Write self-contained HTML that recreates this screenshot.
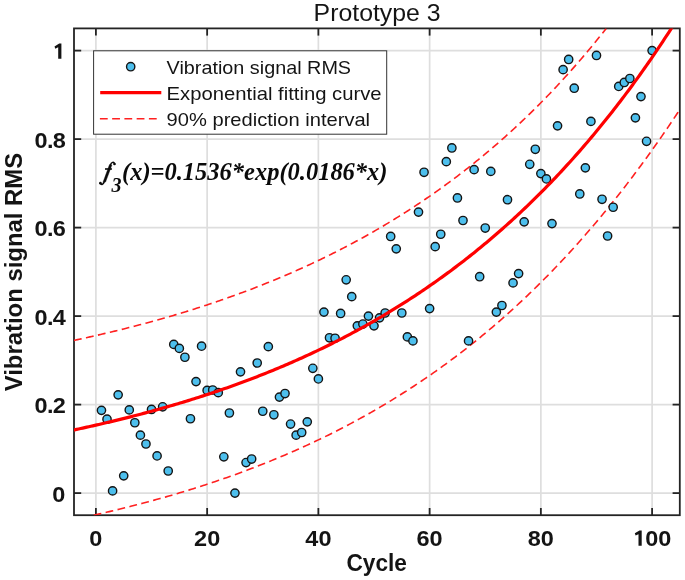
<!DOCTYPE html><html><head><meta charset="utf-8"><style>html,body{margin:0;padding:0;background:#fff;}svg{display:block;will-change:transform;}</style></head><body><svg width="685" height="580" viewBox="0 0 685 580"><g stroke="#dedede" stroke-width="1.7"><line x1="95.90" y1="28.4" x2="95.90" y2="515.2"/><line x1="207.14" y1="28.4" x2="207.14" y2="515.2"/><line x1="318.38" y1="28.4" x2="318.38" y2="515.2"/><line x1="429.62" y1="28.4" x2="429.62" y2="515.2"/><line x1="540.86" y1="28.4" x2="540.86" y2="515.2"/><line x1="652.10" y1="28.4" x2="652.10" y2="515.2"/><line x1="74.0" y1="493.10" x2="679.8" y2="493.10"/><line x1="74.0" y1="404.60" x2="679.8" y2="404.60"/><line x1="74.0" y1="316.10" x2="679.8" y2="316.10"/><line x1="74.0" y1="227.60" x2="679.8" y2="227.60"/><line x1="74.0" y1="139.10" x2="679.8" y2="139.10"/><line x1="74.0" y1="50.60" x2="679.8" y2="50.60"/></g><g stroke="#242424" stroke-width="1.8"><line x1="95.90" y1="515.2" x2="95.90" y2="508.00000000000006"/><line x1="95.90" y1="28.4" x2="95.90" y2="35.6"/><line x1="207.14" y1="515.2" x2="207.14" y2="508.00000000000006"/><line x1="207.14" y1="28.4" x2="207.14" y2="35.6"/><line x1="318.38" y1="515.2" x2="318.38" y2="508.00000000000006"/><line x1="318.38" y1="28.4" x2="318.38" y2="35.6"/><line x1="429.62" y1="515.2" x2="429.62" y2="508.00000000000006"/><line x1="429.62" y1="28.4" x2="429.62" y2="35.6"/><line x1="540.86" y1="515.2" x2="540.86" y2="508.00000000000006"/><line x1="540.86" y1="28.4" x2="540.86" y2="35.6"/><line x1="652.10" y1="515.2" x2="652.10" y2="508.00000000000006"/><line x1="652.10" y1="28.4" x2="652.10" y2="35.6"/><line x1="74.0" y1="493.10" x2="81.2" y2="493.10"/><line x1="679.8" y1="493.10" x2="672.5999999999999" y2="493.10"/><line x1="74.0" y1="404.60" x2="81.2" y2="404.60"/><line x1="679.8" y1="404.60" x2="672.5999999999999" y2="404.60"/><line x1="74.0" y1="316.10" x2="81.2" y2="316.10"/><line x1="679.8" y1="316.10" x2="672.5999999999999" y2="316.10"/><line x1="74.0" y1="227.60" x2="81.2" y2="227.60"/><line x1="679.8" y1="227.60" x2="672.5999999999999" y2="227.60"/><line x1="74.0" y1="139.10" x2="81.2" y2="139.10"/><line x1="679.8" y1="139.10" x2="672.5999999999999" y2="139.10"/><line x1="74.0" y1="50.60" x2="81.2" y2="50.60"/><line x1="679.8" y1="50.60" x2="672.5999999999999" y2="50.60"/></g><rect x="74.0" y="28.4" width="605.80" height="486.80" fill="none" stroke="#242424" stroke-width="1.8"/><defs><clipPath id="cp"><rect x="74.0" y="28.4" width="605.8" height="486.80000000000007"/></clipPath></defs><g clip-path="url(#cp)" fill="none" stroke="#ff2020" stroke-width="1.6" stroke-dasharray="7.8 4.45"><path d="M74.00,340.39 L75.77,340.01 L77.55,339.63 L79.32,339.25 L81.10,338.86 L82.87,338.47 L84.64,338.08 L86.42,337.69 L88.19,337.30 L89.97,336.90 L91.74,336.51 L93.51,336.11 L95.29,335.70 L97.06,335.30 L98.84,334.89 L100.61,334.48 L102.39,334.07 L104.16,333.65 L105.93,333.23 L107.71,332.81 L109.48,332.39 L111.26,331.97 L113.03,331.54 L114.80,331.11 L116.58,330.68 L118.35,330.24 L120.13,329.80 L121.90,329.36 L123.67,328.92 L125.45,328.48 L127.22,328.03 L129.00,327.58 L130.77,327.12 L132.54,326.67 L134.32,326.21 L136.09,325.75 L137.87,325.28 L139.64,324.82 L141.41,324.35 L143.19,323.88 L144.96,323.40 L146.74,322.92 L148.51,322.44 L150.28,321.96 L152.06,321.47 L153.83,320.98 L155.61,320.49 L157.38,320.00 L159.16,319.50 L160.93,319.00 L162.70,318.49 L164.48,317.99 L166.25,317.48 L168.03,316.96 L169.80,316.45 L171.57,315.93 L173.35,315.41 L175.12,314.88 L176.90,314.35 L178.67,313.82 L180.44,313.29 L182.22,312.75 L183.99,312.21 L185.77,311.67 L187.54,311.12 L189.31,310.57 L191.09,310.02 L192.86,309.46 L194.64,308.90 L196.41,308.34 L198.18,307.77 L199.96,307.20 L201.73,306.63 L203.51,306.05 L205.28,305.47 L207.06,304.89 L208.83,304.30 L210.60,303.71 L212.38,303.11 L214.15,302.52 L215.93,301.92 L217.70,301.31 L219.47,300.70 L221.25,300.09 L223.02,299.48 L224.80,298.86 L226.57,298.24 L228.34,297.61 L230.12,296.98 L231.89,296.35 L233.67,295.71 L235.44,295.07 L237.21,294.42 L238.99,293.78 L240.76,293.12 L242.54,292.47 L244.31,291.81 L246.08,291.14 L247.86,290.48 L249.63,289.80 L251.41,289.13 L253.18,288.45 L254.96,287.76 L256.73,287.08 L258.50,286.38 L260.28,285.69 L262.05,284.99 L263.83,284.28 L265.60,283.58 L267.37,282.86 L269.15,282.15 L270.92,281.43 L272.70,280.70 L274.47,279.97 L276.24,279.24 L278.02,278.50 L279.79,277.76 L281.57,277.01 L283.34,276.26 L285.11,275.50 L286.89,274.74 L288.66,273.98 L290.44,273.21 L292.21,272.44 L293.98,271.66 L295.76,270.88 L297.53,270.09 L299.31,269.30 L301.08,268.50 L302.85,267.70 L304.63,266.89 L306.40,266.08 L308.18,265.27 L309.95,264.45 L311.73,263.62 L313.50,262.79 L315.27,261.96 L317.05,261.12 L318.82,260.27 L320.60,259.42 L322.37,258.57 L324.14,257.71 L325.92,256.84 L327.69,255.97 L329.47,255.10 L331.24,254.22 L333.01,253.33 L334.79,252.44 L336.56,251.54 L338.34,250.64 L340.11,249.73 L341.88,248.82 L343.66,247.90 L345.43,246.98 L347.21,246.05 L348.98,245.12 L350.75,244.18 L352.53,243.23 L354.30,242.28 L356.08,241.33 L357.85,240.36 L359.63,239.40 L361.40,238.42 L363.17,237.44 L364.95,236.46 L366.72,235.47 L368.50,234.47 L370.27,233.47 L372.04,232.46 L373.82,231.45 L375.59,230.43 L377.37,229.40 L379.14,228.37 L380.91,227.33 L382.69,226.28 L384.46,225.23 L386.24,224.17 L388.01,223.11 L389.78,222.04 L391.56,220.96 L393.33,219.88 L395.11,218.79 L396.88,217.69 L398.65,216.59 L400.43,215.48 L402.20,214.37 L403.98,213.24 L405.75,212.12 L407.53,210.98 L409.30,209.84 L411.07,208.69 L412.85,207.53 L414.62,206.37 L416.40,205.20 L418.17,204.02 L419.94,202.84 L421.72,201.65 L423.49,200.45 L425.27,199.24 L427.04,198.03 L428.81,196.81 L430.59,195.58 L432.36,194.35 L434.14,193.11 L435.91,191.86 L437.68,190.60 L439.46,189.34 L441.23,188.07 L443.01,186.79 L444.78,185.50 L446.55,184.20 L448.33,182.90 L450.10,181.59 L451.88,180.27 L453.65,178.94 L455.42,177.61 L457.20,176.27 L458.97,174.92 L460.75,173.56 L462.52,172.19 L464.30,170.82 L466.07,169.43 L467.84,168.04 L469.62,166.64 L471.39,165.23 L473.17,163.81 L474.94,162.39 L476.71,160.95 L478.49,159.51 L480.26,158.06 L482.04,156.60 L483.81,155.13 L485.58,153.65 L487.36,152.16 L489.13,150.67 L490.91,149.16 L492.68,147.65 L494.45,146.12 L496.23,144.59 L498.00,143.04 L499.78,141.49 L501.55,139.93 L503.32,138.36 L505.10,136.78 L506.87,135.19 L508.65,133.59 L510.42,131.98 L512.20,130.36 L513.97,128.73 L515.74,127.09 L517.52,125.44 L519.29,123.78 L521.07,122.11 L522.84,120.43 L524.61,118.74 L526.39,117.04 L528.16,115.32 L529.94,113.60 L531.71,111.87 L533.48,110.12 L535.26,108.37 L537.03,106.61 L538.81,104.83 L540.58,103.04 L542.35,101.24 L544.13,99.43 L545.90,97.61 L547.68,95.78 L549.45,93.94 L551.22,92.08 L553.00,90.21 L554.77,88.34 L556.55,86.45 L558.32,84.54 L560.10,82.63 L561.87,80.71 L563.64,78.77 L565.42,76.82 L567.19,74.86 L568.97,72.88 L570.74,70.89 L572.51,68.89 L574.29,66.88 L576.06,64.86 L577.84,62.82 L579.61,60.77 L581.38,58.71 L583.16,56.63 L584.93,54.54 L586.71,52.44 L588.48,50.32 L590.25,48.19 L592.03,46.05 L593.80,43.89 L595.58,41.72 L597.35,39.53 L599.12,37.34 L600.90,35.12 L602.67,32.90 L604.45,30.66 L606.22,28.40"/><path d="M93.68,515.20 L95.64,514.76 L97.59,514.32 L99.54,513.87 L101.50,513.43 L103.45,512.97 L105.41,512.52 L107.36,512.06 L109.31,511.60 L111.27,511.14 L113.22,510.67 L115.17,510.20 L117.13,509.73 L119.08,509.26 L121.04,508.78 L122.99,508.30 L124.94,507.81 L126.90,507.32 L128.85,506.83 L130.80,506.34 L132.76,505.84 L134.71,505.34 L136.67,504.83 L138.62,504.33 L140.57,503.82 L142.53,503.30 L144.48,502.78 L146.43,502.26 L148.39,501.74 L150.34,501.21 L152.29,500.68 L154.25,500.14 L156.20,499.60 L158.16,499.06 L160.11,498.51 L162.06,497.97 L164.02,497.41 L165.97,496.86 L167.92,496.29 L169.88,495.73 L171.83,495.16 L173.79,494.59 L175.74,494.02 L177.69,493.44 L179.65,492.85 L181.60,492.27 L183.55,491.68 L185.51,491.08 L187.46,490.48 L189.42,489.88 L191.37,489.27 L193.32,488.66 L195.28,488.05 L197.23,487.43 L199.18,486.81 L201.14,486.18 L203.09,485.55 L205.05,484.91 L207.00,484.27 L208.95,483.63 L210.91,482.98 L212.86,482.33 L214.81,481.67 L216.77,481.01 L218.72,480.35 L220.68,479.68 L222.63,479.00 L224.58,478.33 L226.54,477.64 L228.49,476.96 L230.44,476.26 L232.40,475.57 L234.35,474.87 L236.30,474.16 L238.26,473.45 L240.21,472.73 L242.17,472.01 L244.12,471.29 L246.07,470.56 L248.03,469.83 L249.98,469.09 L251.93,468.34 L253.89,467.59 L255.84,466.84 L257.80,466.08 L259.75,465.32 L261.70,464.55 L263.66,463.77 L265.61,463.00 L267.56,462.21 L269.52,461.42 L271.47,460.63 L273.43,459.83 L275.38,459.02 L277.33,458.21 L279.29,457.40 L281.24,456.57 L283.19,455.75 L285.15,454.92 L287.10,454.08 L289.06,453.24 L291.01,452.39 L292.96,451.53 L294.92,450.67 L296.87,449.81 L298.82,448.94 L300.78,448.06 L302.73,447.18 L304.69,446.29 L306.64,445.39 L308.59,444.49 L310.55,443.59 L312.50,442.67 L314.45,441.76 L316.41,440.83 L318.36,439.90 L320.32,438.96 L322.27,438.02 L324.22,437.07 L326.18,436.12 L328.13,435.16 L330.08,434.19 L332.04,433.21 L333.99,432.23 L335.94,431.25 L337.90,430.25 L339.85,429.25 L341.81,428.25 L343.76,427.23 L345.71,426.21 L347.67,425.19 L349.62,424.15 L351.57,423.11 L353.53,422.07 L355.48,421.01 L357.44,419.95 L359.39,418.88 L361.34,417.81 L363.30,416.73 L365.25,415.64 L367.20,414.54 L369.16,413.44 L371.11,412.33 L373.07,411.21 L375.02,410.08 L376.97,408.95 L378.93,407.81 L380.88,406.66 L382.83,405.51 L384.79,404.35 L386.74,403.18 L388.70,402.00 L390.65,400.81 L392.60,399.62 L394.56,398.42 L396.51,397.21 L398.46,395.99 L400.42,394.77 L402.37,393.54 L404.33,392.30 L406.28,391.05 L408.23,389.79 L410.19,388.52 L412.14,387.25 L414.09,385.97 L416.05,384.68 L418.00,383.38 L419.95,382.07 L421.91,380.76 L423.86,379.43 L425.82,378.10 L427.77,376.76 L429.72,375.41 L431.68,374.05 L433.63,372.68 L435.58,371.31 L437.54,369.92 L439.49,368.53 L441.45,367.12 L443.40,365.71 L445.35,364.29 L447.31,362.86 L449.26,361.42 L451.21,359.97 L453.17,358.51 L455.12,357.04 L457.08,355.56 L459.03,354.08 L460.98,352.58 L462.94,351.07 L464.89,349.56 L466.84,348.03 L468.80,346.50 L470.75,344.95 L472.71,343.39 L474.66,341.83 L476.61,340.25 L478.57,338.67 L480.52,337.07 L482.47,335.47 L484.43,333.85 L486.38,332.22 L488.34,330.58 L490.29,328.94 L492.24,327.28 L494.20,325.61 L496.15,323.93 L498.10,322.24 L500.06,320.54 L502.01,318.83 L503.96,317.10 L505.92,315.37 L507.87,313.63 L509.83,311.87 L511.78,310.10 L513.73,308.33 L515.69,306.54 L517.64,304.74 L519.59,302.92 L521.55,301.10 L523.50,299.27 L525.46,297.42 L527.41,295.56 L529.36,293.69 L531.32,291.81 L533.27,289.92 L535.22,288.01 L537.18,286.09 L539.13,284.16 L541.09,282.22 L543.04,280.27 L544.99,278.30 L546.95,276.33 L548.90,274.34 L550.85,272.33 L552.81,270.32 L554.76,268.29 L556.72,266.25 L558.67,264.20 L560.62,262.13 L562.58,260.05 L564.53,257.96 L566.48,255.86 L568.44,253.74 L570.39,251.61 L572.35,249.47 L574.30,247.31 L576.25,245.14 L578.21,242.96 L580.16,240.76 L582.11,238.55 L584.07,236.33 L586.02,234.09 L587.98,231.84 L589.93,229.58 L591.88,227.30 L593.84,225.01 L595.79,222.70 L597.74,220.38 L599.70,218.05 L601.65,215.70 L603.60,213.34 L605.56,210.97 L607.51,208.58 L609.47,206.17 L611.42,203.75 L613.37,201.32 L615.33,198.87 L617.28,196.41 L619.23,193.93 L621.19,191.44 L623.14,188.94 L625.10,186.42 L627.05,183.88 L629.00,181.33 L630.96,178.76 L632.91,176.18 L634.86,173.59 L636.82,170.98 L638.77,168.35 L640.73,165.71 L642.68,163.05 L644.63,160.38 L646.59,157.69 L648.54,154.99 L650.49,152.27 L652.45,149.53 L654.40,146.78 L656.36,144.02 L658.31,141.23 L660.26,138.43 L662.22,135.62 L664.17,132.79 L666.12,129.94 L668.08,127.08 L670.03,124.20 L671.99,121.31 L673.94,118.40 L675.89,115.47 L677.85,112.53 L679.80,109.56"/></g><g fill="#4dbfed" stroke="#141414" stroke-width="1.4"><circle cx="101.46" cy="410.35" r="4.15"/><circle cx="107.02" cy="419.20" r="4.15"/><circle cx="112.59" cy="490.89" r="4.15"/><circle cx="118.15" cy="394.87" r="4.15"/><circle cx="123.71" cy="475.84" r="4.15"/><circle cx="129.27" cy="409.91" r="4.15"/><circle cx="134.83" cy="422.74" r="4.15"/><circle cx="140.40" cy="435.13" r="4.15"/><circle cx="145.96" cy="443.98" r="4.15"/><circle cx="151.52" cy="409.47" r="4.15"/><circle cx="157.08" cy="455.93" r="4.15"/><circle cx="162.64" cy="406.81" r="4.15"/><circle cx="168.21" cy="470.98" r="4.15"/><circle cx="173.77" cy="344.42" r="4.15"/><circle cx="179.33" cy="348.40" r="4.15"/><circle cx="184.89" cy="357.25" r="4.15"/><circle cx="190.45" cy="418.76" r="4.15"/><circle cx="196.02" cy="381.59" r="4.15"/><circle cx="201.58" cy="346.19" r="4.15"/><circle cx="207.14" cy="390.44" r="4.15"/><circle cx="212.70" cy="390.00" r="4.15"/><circle cx="218.26" cy="392.65" r="4.15"/><circle cx="223.83" cy="456.81" r="4.15"/><circle cx="229.39" cy="413.01" r="4.15"/><circle cx="234.95" cy="493.10" r="4.15"/><circle cx="240.51" cy="371.86" r="4.15"/><circle cx="246.07" cy="462.57" r="4.15"/><circle cx="251.64" cy="459.03" r="4.15"/><circle cx="257.20" cy="363.00" r="4.15"/><circle cx="262.76" cy="411.24" r="4.15"/><circle cx="268.32" cy="346.63" r="4.15"/><circle cx="273.88" cy="414.78" r="4.15"/><circle cx="279.45" cy="397.08" r="4.15"/><circle cx="285.01" cy="393.54" r="4.15"/><circle cx="290.57" cy="424.07" r="4.15"/><circle cx="296.13" cy="435.13" r="4.15"/><circle cx="301.69" cy="432.48" r="4.15"/><circle cx="307.26" cy="421.86" r="4.15"/><circle cx="312.82" cy="368.32" r="4.15"/><circle cx="318.38" cy="378.94" r="4.15"/><circle cx="323.94" cy="312.12" r="4.15"/><circle cx="329.50" cy="337.78" r="4.15"/><circle cx="335.07" cy="338.23" r="4.15"/><circle cx="340.63" cy="313.45" r="4.15"/><circle cx="346.19" cy="279.82" r="4.15"/><circle cx="351.75" cy="296.63" r="4.15"/><circle cx="357.31" cy="325.84" r="4.15"/><circle cx="362.88" cy="324.07" r="4.15"/><circle cx="368.44" cy="316.10" r="4.15"/><circle cx="374.00" cy="325.84" r="4.15"/><circle cx="379.56" cy="317.87" r="4.15"/><circle cx="385.12" cy="313.00" r="4.15"/><circle cx="390.69" cy="236.45" r="4.15"/><circle cx="396.25" cy="248.84" r="4.15"/><circle cx="401.81" cy="313.00" r="4.15"/><circle cx="407.37" cy="336.90" r="4.15"/><circle cx="412.93" cy="340.88" r="4.15"/><circle cx="418.50" cy="212.11" r="4.15"/><circle cx="424.06" cy="172.29" r="4.15"/><circle cx="429.62" cy="308.58" r="4.15"/><circle cx="435.18" cy="246.63" r="4.15"/><circle cx="440.74" cy="234.24" r="4.15"/><circle cx="446.31" cy="161.67" r="4.15"/><circle cx="451.87" cy="147.95" r="4.15"/><circle cx="457.43" cy="197.95" r="4.15"/><circle cx="462.99" cy="220.52" r="4.15"/><circle cx="468.55" cy="340.88" r="4.15"/><circle cx="474.12" cy="169.63" r="4.15"/><circle cx="479.68" cy="276.72" r="4.15"/><circle cx="485.24" cy="228.04" r="4.15"/><circle cx="490.80" cy="171.40" r="4.15"/><circle cx="496.36" cy="312.12" r="4.15"/><circle cx="501.93" cy="305.48" r="4.15"/><circle cx="507.49" cy="199.72" r="4.15"/><circle cx="513.05" cy="282.91" r="4.15"/><circle cx="518.61" cy="273.62" r="4.15"/><circle cx="524.17" cy="221.85" r="4.15"/><circle cx="529.74" cy="164.32" r="4.15"/><circle cx="535.30" cy="149.28" r="4.15"/><circle cx="540.86" cy="173.62" r="4.15"/><circle cx="546.42" cy="178.93" r="4.15"/><circle cx="551.98" cy="223.62" r="4.15"/><circle cx="557.55" cy="125.83" r="4.15"/><circle cx="563.11" cy="69.63" r="4.15"/><circle cx="568.67" cy="59.45" r="4.15"/><circle cx="574.23" cy="88.21" r="4.15"/><circle cx="579.79" cy="193.97" r="4.15"/><circle cx="585.36" cy="167.86" r="4.15"/><circle cx="590.92" cy="121.40" r="4.15"/><circle cx="596.48" cy="55.47" r="4.15"/><circle cx="602.04" cy="199.28" r="4.15"/><circle cx="607.60" cy="236.01" r="4.15"/><circle cx="613.17" cy="207.25" r="4.15"/><circle cx="618.73" cy="86.44" r="4.15"/><circle cx="624.29" cy="82.46" r="4.15"/><circle cx="629.85" cy="78.48" r="4.15"/><circle cx="635.41" cy="117.86" r="4.15"/><circle cx="640.98" cy="96.62" r="4.15"/><circle cx="646.54" cy="141.31" r="4.15"/><circle cx="652.10" cy="50.60" r="4.15"/></g><g clip-path="url(#cp)" fill="none" stroke="#ff0000" stroke-width="3.2"><path d="M72.54,430.23 L74.57,429.81 L76.60,429.38 L78.62,428.94 L80.65,428.51 L82.68,428.07 L84.71,427.63 L86.74,427.18 L88.77,426.73 L90.79,426.28 L92.82,425.83 L94.85,425.37 L96.88,424.91 L98.91,424.45 L100.94,423.98 L102.96,423.51 L104.99,423.04 L107.02,422.56 L109.05,422.08 L111.08,421.60 L113.11,421.11 L115.13,420.62 L117.16,420.13 L119.19,419.63 L121.22,419.13 L123.25,418.63 L125.27,418.12 L127.30,417.61 L129.33,417.10 L131.36,416.58 L133.39,416.06 L135.42,415.54 L137.44,415.01 L139.47,414.48 L141.50,413.95 L143.53,413.41 L145.56,412.87 L147.59,412.32 L149.61,411.77 L151.64,411.22 L153.67,410.66 L155.70,410.10 L157.73,409.54 L159.76,408.97 L161.78,408.40 L163.81,407.82 L165.84,407.24 L167.87,406.66 L169.90,406.07 L171.93,405.48 L173.95,404.89 L175.98,404.29 L178.01,403.68 L180.04,403.07 L182.07,402.46 L184.09,401.85 L186.12,401.22 L188.15,400.60 L190.18,399.97 L192.21,399.34 L194.24,398.70 L196.26,398.06 L198.29,397.41 L200.32,396.76 L202.35,396.11 L204.38,395.45 L206.41,394.78 L208.43,394.12 L210.46,393.44 L212.49,392.77 L214.52,392.08 L216.55,391.40 L218.58,390.71 L220.60,390.01 L222.63,389.31 L224.66,388.60 L226.69,387.89 L228.72,387.18 L230.75,386.46 L232.77,385.73 L234.80,385.00 L236.83,384.27 L238.86,383.53 L240.89,382.78 L242.91,382.03 L244.94,381.28 L246.97,380.52 L249.00,379.75 L251.03,378.98 L253.06,378.20 L255.08,377.42 L257.11,376.64 L259.14,375.85 L261.17,375.05 L263.20,374.25 L265.23,373.44 L267.25,372.62 L269.28,371.81 L271.31,370.98 L273.34,370.15 L275.37,369.31 L277.40,368.47 L279.42,367.63 L281.45,366.77 L283.48,365.91 L285.51,365.05 L287.54,364.18 L289.57,363.30 L291.59,362.42 L293.62,361.53 L295.65,360.64 L297.68,359.74 L299.71,358.83 L301.73,357.92 L303.76,357.00 L305.79,356.07 L307.82,355.14 L309.85,354.20 L311.88,353.26 L313.90,352.31 L315.93,351.35 L317.96,350.39 L319.99,349.42 L322.02,348.44 L324.05,347.46 L326.07,346.47 L328.10,345.47 L330.13,344.47 L332.16,343.45 L334.19,342.44 L336.22,341.41 L338.24,340.38 L340.27,339.34 L342.30,338.30 L344.33,337.25 L346.36,336.19 L348.39,335.12 L350.41,334.05 L352.44,332.96 L354.47,331.88 L356.50,330.78 L358.53,329.68 L360.55,328.57 L362.58,327.45 L364.61,326.32 L366.64,325.19 L368.67,324.04 L370.70,322.90 L372.72,321.74 L374.75,320.57 L376.78,319.40 L378.81,318.22 L380.84,317.03 L382.87,315.83 L384.89,314.63 L386.92,313.42 L388.95,312.19 L390.98,310.96 L393.01,309.73 L395.04,308.48 L397.06,307.22 L399.09,305.96 L401.12,304.69 L403.15,303.41 L405.18,302.12 L407.21,300.82 L409.23,299.51 L411.26,298.20 L413.29,296.87 L415.32,295.54 L417.35,294.19 L419.37,292.84 L421.40,291.48 L423.43,290.11 L425.46,288.73 L427.49,287.34 L429.52,285.94 L431.54,284.53 L433.57,283.11 L435.60,281.69 L437.63,280.25 L439.66,278.80 L441.69,277.35 L443.71,275.88 L445.74,274.40 L447.77,272.91 L449.80,271.42 L451.83,269.91 L453.86,268.39 L455.88,266.87 L457.91,265.33 L459.94,263.78 L461.97,262.22 L464.00,260.65 L466.03,259.07 L468.05,257.48 L470.08,255.88 L472.11,254.26 L474.14,252.64 L476.17,251.01 L478.19,249.36 L480.22,247.70 L482.25,246.03 L484.28,244.35 L486.31,242.66 L488.34,240.96 L490.36,239.25 L492.39,237.52 L494.42,235.78 L496.45,234.03 L498.48,232.27 L500.51,230.50 L502.53,228.71 L504.56,226.92 L506.59,225.11 L508.62,223.29 L510.65,221.45 L512.68,219.60 L514.70,217.74 L516.73,215.87 L518.76,213.99 L520.79,212.09 L522.82,210.18 L524.85,208.26 L526.87,206.32 L528.90,204.37 L530.93,202.41 L532.96,200.43 L534.99,198.44 L537.01,196.44 L539.04,194.42 L541.07,192.39 L543.10,190.35 L545.13,188.29 L547.16,186.22 L549.18,184.13 L551.21,182.03 L553.24,179.91 L555.27,177.79 L557.30,175.64 L559.33,173.48 L561.35,171.31 L563.38,169.12 L565.41,166.92 L567.44,164.70 L569.47,162.47 L571.50,160.22 L573.52,157.96 L575.55,155.68 L577.58,153.39 L579.61,151.08 L581.64,148.75 L583.67,146.41 L585.69,144.05 L587.72,141.68 L589.75,139.29 L591.78,136.89 L593.81,134.46 L595.83,132.03 L597.86,129.57 L599.89,127.10 L601.92,124.61 L603.95,122.11 L605.98,119.58 L608.00,117.05 L610.03,114.49 L612.06,111.91 L614.09,109.32 L616.12,106.71 L618.15,104.09 L620.17,101.44 L622.20,98.78 L624.23,96.10 L626.26,93.40 L628.29,90.68 L630.32,87.95 L632.34,85.19 L634.37,82.42 L636.40,79.63 L638.43,76.82 L640.46,73.99 L642.49,71.14 L644.51,68.27 L646.54,65.38 L648.57,62.47 L650.60,59.54 L652.63,56.60 L654.65,53.63 L656.68,50.64 L658.71,47.63 L660.74,44.60 L662.77,41.56 L664.80,38.49 L666.82,35.40 L668.85,32.28 L670.88,29.15 L672.91,26.00 L674.94,22.82 L676.97,19.62 L678.99,16.40 L681.02,13.16"/></g><rect x="93.6" y="50.8" width="293.10" height="83.40" fill="#fff" stroke="#333" stroke-width="1"/><circle cx="130.7" cy="66.7" r="4.15" fill="#4dbfed" stroke="#141414" stroke-width="1.4"/><line x1="100.2" y1="92.6" x2="161.3" y2="92.6" stroke="#ff0000" stroke-width="3.2"/><line x1="99.9" y1="118.7" x2="156.9" y2="118.7" stroke="#ff2020" stroke-width="1.6" stroke-dasharray="7.8 4.45"/><text x="166.6" y="73.8" font-family='"Liberation Sans", sans-serif' font-size="18.6" font-weight="normal" text-anchor="start" fill="#141414" textLength="184.5" lengthAdjust="spacingAndGlyphs">Vibration signal RMS</text><text x="166.6" y="99.6" font-family='"Liberation Sans", sans-serif' font-size="18.6" font-weight="normal" text-anchor="start" fill="#141414" textLength="215" lengthAdjust="spacingAndGlyphs">Exponential fitting curve</text><text x="166.6" y="125.5" font-family='"Liberation Sans", sans-serif' font-size="18.6" font-weight="normal" text-anchor="start" fill="#141414" textLength="203.5" lengthAdjust="spacingAndGlyphs">90% prediction interval</text><g fill="#0a0a0a" stroke="#0a0a0a"><path d="M114.4,163.4 C113.9,161.7 111.4,161.9 110.4,164.9" fill="none" stroke-width="1.5"/><path d="M109.5,164.6 L111.9,165.0 L105.6,182.0 L102.9,182.6 Z" stroke-width="0.4"/><path d="M104.2,182.0 C103.3,184.6 101.4,184.8 100.5,183.8" fill="none" stroke-width="1.5"/><circle cx="114.5" cy="164.0" r="1.35" stroke="none"/><circle cx="100.4" cy="183.2" r="1.35" stroke="none"/><path d="M105.0,169.0 L111.9,169.0" fill="none" stroke-width="1.6"/></g><text x="111.5" y="192.3" font-family='"Liberation Serif", serif' font-weight="bold" font-style="italic" fill="#0a0a0a" font-size="20">3</text><text x="122" y="180" font-family='"Liberation Serif", serif' font-weight="bold" font-style="italic" fill="#0a0a0a" font-size="26" textLength="265.5" lengthAdjust="spacingAndGlyphs">(x)=0.1536*exp(0.0186*x)</text><text transform="translate(95.90,545.8) scale(1.03,1)" font-family='"Liberation Sans", sans-serif' font-size="22.8" font-weight="bold" text-anchor="middle" fill="#141414">0</text><text transform="translate(207.14,545.8) scale(1.03,1)" font-family='"Liberation Sans", sans-serif' font-size="22.8" font-weight="bold" text-anchor="middle" fill="#141414">20</text><text transform="translate(318.38,545.8) scale(1.03,1)" font-family='"Liberation Sans", sans-serif' font-size="22.8" font-weight="bold" text-anchor="middle" fill="#141414">40</text><text transform="translate(429.62,545.8) scale(1.03,1)" font-family='"Liberation Sans", sans-serif' font-size="22.8" font-weight="bold" text-anchor="middle" fill="#141414">60</text><text transform="translate(540.86,545.8) scale(1.03,1)" font-family='"Liberation Sans", sans-serif' font-size="22.8" font-weight="bold" text-anchor="middle" fill="#141414">80</text><text transform="translate(645.2,545.8) scale(1.03,1)" font-family='"Liberation Sans", sans-serif' font-size="22.8" font-weight="bold" text-anchor="start" fill="#141414">00</text><path transform="translate(580.3,486.9)" d="M61.4,43.6 L61.4,58.8 L58.2,58.8 L58.2,47.3 L55.3,48.7 L54.5,46.4 L59.2,43.6 Z" fill="#141414"/><text transform="translate(65.3,501.60) scale(1.03,1)" font-family='"Liberation Sans", sans-serif' font-size="22.8" font-weight="bold" text-anchor="end" fill="#141414">0</text><text transform="translate(65.3,413.10) scale(1.03,1)" font-family='"Liberation Sans", sans-serif' font-size="22.8" font-weight="bold" text-anchor="end" fill="#141414" letter-spacing="-0.6">0.2</text><text transform="translate(65.3,324.60) scale(1.03,1)" font-family='"Liberation Sans", sans-serif' font-size="22.8" font-weight="bold" text-anchor="end" fill="#141414" letter-spacing="-0.6">0.4</text><text transform="translate(65.3,236.10) scale(1.03,1)" font-family='"Liberation Sans", sans-serif' font-size="22.8" font-weight="bold" text-anchor="end" fill="#141414" letter-spacing="-0.6">0.6</text><text transform="translate(65.3,147.60) scale(1.03,1)" font-family='"Liberation Sans", sans-serif' font-size="22.8" font-weight="bold" text-anchor="end" fill="#141414" letter-spacing="-0.6">0.8</text><path d="M61.4,43.6 L61.4,58.8 L58.2,58.8 L58.2,47.3 L55.3,48.7 L54.5,46.4 L59.2,43.6 Z" fill="#141414"/><text x="376.7" y="570.5" font-family='"Liberation Sans", sans-serif' font-size="24" font-weight="bold" text-anchor="middle" fill="#141414" textLength="60.5" lengthAdjust="spacingAndGlyphs">Cycle</text><g transform="translate(22,272.05) rotate(-90)"><text x="0" y="0" font-family='"Liberation Sans", sans-serif' font-size="24" font-weight="bold" text-anchor="middle" fill="#141414" textLength="238.5" lengthAdjust="spacingAndGlyphs">Vibration signal RMS</text></g><text x="377.1" y="20.8" font-family='"Liberation Sans", sans-serif' font-size="23.3" font-weight="normal" text-anchor="middle" fill="#141414" textLength="127" lengthAdjust="spacingAndGlyphs">Prototype 3</text></svg></body></html>
